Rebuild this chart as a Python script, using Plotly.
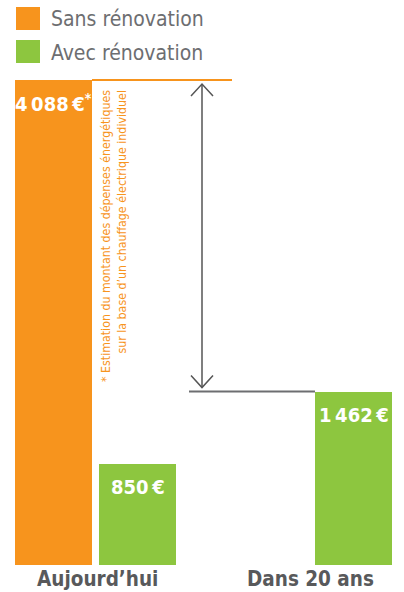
import plotly.graph_objects as go

# ---------------- data ----------------
series_names = ["Sans rénovation", "Avec rénovation"]
categories = ["Aujourd’hui", "Dans 20 ans"]
sans_values = [4088]          # Aujourd'hui only
avec_values = [850, 1462]     # Aujourd'hui, Dans 20 ans
sans_labels = ["4\u202f088\u202f€<sup>*</sup>"]
avec_labels = ["850\u202f€", "1\u202f462\u202f€"]
footnote_lines = ["* Estimation du montant des dépenses énergétiques",
                  "sur la base d’un chauffage électrique individuel"]

# ---------------- style / layout ----------------
ORANGE = "#F7941D"
GREEN = "#8DC63F"
TEXT_GRAY = "#58595B"
LEG_GRAY = "#6D6E71"
LINE_GRAY = "#6D6E71"
FONT = "DejaVu Sans Condensed, Roboto, sans-serif"

W, H = 404, 592
MARGIN_B = 27
PLOT_H = H - MARGIN_B
TALLEST_PX = 485                    # pixel height of tallest bar
YMAX = max(sans_values) * PLOT_H / TALLEST_PX
BAR_W = 77
sans_x = [53.5]
avec_x = [137.5, 353.5]
cat_label_x = [97, 310]


def dy(px):
    return px * YMAX / PLOT_H


def ypaper(px):
    return 1 - px / PLOT_H


fig = go.Figure()
fig.add_trace(go.Bar(x=sans_x, y=sans_values, width=BAR_W, marker_color=ORANGE,
                     marker_line_width=0, name=series_names[0], showlegend=False,
                     hoverinfo="skip"))
fig.add_trace(go.Bar(x=avec_x, y=avec_values, width=BAR_W, marker_color=GREEN,
                     marker_line_width=0, name=series_names[1], showlegend=False,
                     hoverinfo="skip"))

shapes = []
annotations = []

# custom legend
for i, (name, col) in enumerate(zip(series_names, [ORANGE, GREEN])):
    top = 7 + i * 33
    shapes.append(dict(type="rect", xref="x", yref="paper", x0=16, x1=40,
                       y0=ypaper(top + 23), y1=ypaper(top), fillcolor=col,
                       line_width=0))
    annotations.append(dict(text=name, x=49, xref="x", xanchor="left",
                            y=ypaper(top + 12.5), yref="paper", yanchor="middle",
                            showarrow=False,
                            font=dict(family=FONT, size=21, color=LEG_GRAY)))

# value labels
for xv, v, lab in zip(sans_x + avec_x, sans_values + avec_values, sans_labels + avec_labels):
    annotations.append(dict(text="<b>" + lab + "</b>", x=xv, y=v - dy(23), xanchor="center",
                            yanchor="middle", showarrow=False,
                            font=dict(family=FONT, size=20, color="white")))

# category labels
for xv, cat in zip(cat_label_x, categories):
    annotations.append(dict(text="<b>" + cat + "</b>", x=xv, xref="x",
                            y=-14 / PLOT_H, yref="paper", yanchor="middle",
                            showarrow=False,
                            font=dict(family=FONT, size=20.5, color=TEXT_GRAY)))

# reference lines
top_v = sans_values[0]
bot_v = avec_values[1]
shapes.append(dict(type="line", x0=sans_x[0] + BAR_W / 2, x1=232, y0=top_v, y1=top_v,
                   line=dict(color=ORANGE, width=2)))
shapes.append(dict(type="line", x0=189, x1=avec_x[1] - BAR_W / 2, y0=bot_v, y1=bot_v,
                   line=dict(color=LINE_GRAY, width=2)))

# double arrow
AX = 202
y_top = top_v - dy(4)
y_bot = bot_v + dy(4)
shapes.append(dict(type="line", x0=AX, x1=AX, y0=y_bot, y1=y_top,
                   line=dict(color="#555555", width=1.5)))
shapes.append(dict(type="path",
                   path=f"M {AX-11},{y_top-dy(12)} L {AX},{y_top} L {AX+11},{y_top-dy(12)}",
                   line=dict(color="#555555", width=1.5)))
shapes.append(dict(type="path",
                   path=f"M {AX-11},{y_bot+dy(12)} L {AX},{y_bot} L {AX+11},{y_bot+dy(12)}",
                   line=dict(color="#555555", width=1.5)))

# vertical footnote
annotations.append(dict(text="<br>".join(footnote_lines), x=sans_x[0] + BAR_W / 2 + 22,
                        y=top_v - dy(156), textangle=-90, align="right",
                        xanchor="center", yanchor="middle", showarrow=False,
                        font=dict(family=FONT, size=12.3, color=ORANGE)))

fig.update_layout(
    width=W, height=H,
    margin=dict(l=0, r=0, t=0, b=MARGIN_B),
    paper_bgcolor="white", plot_bgcolor="white",
    xaxis=dict(range=[0, W], visible=False, fixedrange=True),
    yaxis=dict(range=[0, YMAX], visible=False, fixedrange=True),
    shapes=shapes, annotations=annotations,
    bargap=0, showlegend=False,
)

fig.write_html("out.html", config={"displayModeBar": False},
               post_script="document.body.style.margin='0';document.body.style.padding='0';")
